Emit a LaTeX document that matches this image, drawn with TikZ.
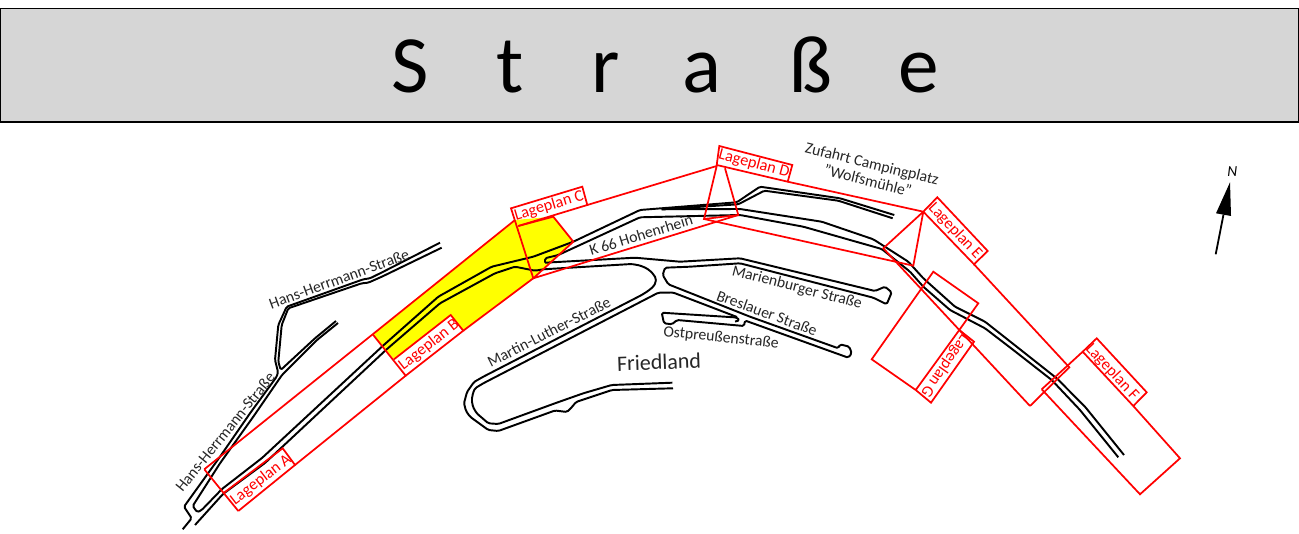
\documentclass[tikz,border=0pt]{standalone}
\usepackage{fontspec}
\setmainfont{Carlito}
\usetikzlibrary{arrows.meta}
\definecolor{bargray}{HTML}{D6D6D6}
\definecolor{planyellow}{RGB}{255,255,0}
\tikzset{
    road/.style={draw=black, line width=1.45pt, line join=round, rounded corners=1.2pt},
    frame/.style={draw=red, line width=1.3pt, line join=miter},
    streetname/.style={font=\fontsize{11.8}{13}\selectfont, text=black!85, inner sep=0pt, align=center},
    planname/.style={font=\fontsize{12.2}{13}\selectfont, text=red, inner sep=0pt},
    titleletter/.style={font=\fontsize{61}{61}\selectfont, anchor=base, inner sep=0pt},
}
\begin{document}
\begin{tikzpicture}[x=0.75pt, y=-0.75pt]
    \useasboundingbox (0,0) rectangle (1299,534);

    % title bar
    \draw[fill=bargray, line width=0.9pt] (0.6,8.8) rectangle (1298.4,122);
    \foreach \ltr/\xpos in {S/410, t/510, r/606, a/702, ß/811, e/919}
        \node[titleletter] (letter\ltr) at (\xpos,93) {\ltr};

    % area in yellow
    \fill[planyellow] (372.7,334.3) -- (515,220) -- (553.3,216.7) -- (573.3,241.7) -- (533.3,278.3)
        -- (463.3,330.7) -- (450.7,315) -- (394,359.3) -- cycle;

    % Hans-Herrmann-Strasse
    \draw[road] (182.7,529.3) -- (191.7,518.3) -- (184,506.7) -- (220,456.7) -- (250,413.3) -- (276.7,376.7)
        -- (278,372) -- (275,360) -- (278.3,325) -- (286.7,306.7) -- (363.3,279.3) -- (370,278.3) -- (383.3,271.7) -- (440,242.7);
    \draw[road] (441.7,247.7) -- (383.3,276) -- (368.3,282.7) -- (361.7,283.3) -- (288.3,308.3) -- (281.7,325)
        -- (278.3,361.7) -- (280.7,370) -- (315,338.3) -- (336,321);
    \draw[road] (338,323) -- (317,340) -- (282,375) -- (253.3,416.7) -- (220,463.3) -- (192.7,506) -- (197.3,512.3)
        -- (201.7,510) -- (222,489) -- (262,458) -- (383,345.7) -- (438.3,296.7) -- (491.7,266.7) -- (533.3,256.7) -- (573.3,241.7)
        -- (640,210) -- (736.7,202.3) -- (760,186.7) -- (840,198.3) -- (894.3,215);
    \draw[road] (195,525) -- (223,494) -- (265,463) -- (386.7,349.3) -- (440,303.3) -- (495,273.3) -- (515,266.7)
        -- (535,270.7) -- (543.3,269.3) -- (631.7,264) -- (640,265.5) -- (646.7,268.3) -- (652,272.5) -- (656,278.3)
        -- (655.5,283) -- (653.3,286.7) -- (648,291) -- (641.7,295)
        -- (483.3,376.7) -- (474,382) -- (467,392) -- (464,403.3) -- (466,411) -- (470,416.7) -- (488.3,430) -- (498.3,431) -- (555,410.5)
        -- (567,412) -- (572,407) -- (576,402) -- (612,390) -- (673,388.3);
    \draw[road] (672.3,382.7) -- (611.7,385) -- (583.3,393.3) -- (555,403.3) -- (498.3,424) -- (488.3,423.3) -- (476.7,413.3)
        -- (473,407) -- (471.7,400) -- (473,393) -- (475,388.3) -- (483.3,383.3) -- (658.3,292.7) -- (673,292.5) -- (737,317);

    % K 66 east of the junction
    \draw[road] (661.7,209.3) -- (738.3,204.3) -- (764.3,190.7) -- (838.3,200.7) -- (892.7,218.3);
    \draw[road] (661.7,209.3) -- (740,209) -- (821.7,221.7) -- (873.3,239.3) -- (908.3,261.7) -- (923.3,278.3) -- (955,306.7)
        -- (985,321.7) -- (1016.7,346.7) -- (1056.7,378.3) -- (1085,406.7) -- (1124,455);
    \draw[road] (545,262.7) -- (545,258.3) -- (558.3,255) -- (640,217.3) -- (740,215) -- (803.3,226.7) -- (881.7,249)
        -- (910,271.7) -- (923.3,286.7) -- (950,310) -- (985,328.3) -- (1013.3,350) -- (1051.7,380) -- (1080,410) -- (1118.3,457.3);

    % Marienburger, Breslauer, Ostpreussen
    \draw[road] (545,262.7) -- (635,257.7) -- (680,261.7) -- (740,258.3) -- (875,291) -- (885,286.7) -- (891.7,292.3)
        -- (886.7,304.3) -- (873.3,297.7) -- (740,263.3) -- (690,266.7) -- (665,267.7) -- (662.7,275) -- (668.3,284.3)
        -- (750,316.7) -- (838.3,348.3) -- (840,344.3) -- (849.3,346.7) -- (851.7,353.3) -- (848.3,357.7) -- (745,320.5)
        -- (744,326) -- (677,320) -- (672,324.3) -- (664,323.3) -- (661.7,312.7) -- (737,317.5) -- (739.5,320.5) -- (735,321.5);

    % plan frames
    \draw[frame] (204.3,469.3) -- (372.7,334.3) -- (515,220);
    \draw[frame] (238.3,511) -- (204.3,469.3);
    \draw[frame] (223.3,493.3) -- (282.7,448.3) -- (295,465) -- (238.3,511);
    \draw[frame] (295,465) -- (405.7,375.7) -- (372.7,334.3);
    \draw[frame] (394,359.3) -- (450.7,315) -- (463.3,330.7) -- (405.7,375.7);
    \draw[frame] (463.3,330.7) -- (533.3,278.3) -- (511,208.3) -- (582.3,186.7) -- (587.3,205) -- (518.3,226);
    \draw[frame] (518.3,226) -- (553.3,216.7) -- (573.3,241.7) -- (533.3,278.3) -- (738.3,215) -- (725,168.3);
    \draw[frame] (587.3,205) -- (716.7,166) -- (704,219) -- (738.3,215);
    \draw[frame] (716.7,165) -- (719.3,146) -- (792.3,165) -- (787.7,181.7) -- cycle;
    \draw[frame] (787.7,181.7) -- (923.3,211.7) -- (913.3,265.7) -- (704,219);
    \draw[frame] (1030,406) -- (883.3,248.3) -- (923.3,211.7) -- (937.3,197.3) -- (987.7,251) -- (974,264.3) -- (923.3,211.7);
    \draw[frame] (974,264.3) -- (1069.3,367.3) -- (1030,406);
    \draw[frame] (1041.7,389.3) -- (1082.7,351.7) -- (1096.7,338.3) -- (1146.7,392.3) -- (1133.3,406) -- (1082.7,351.7);
    \draw[frame] (1133.3,406) -- (1180,458.3) -- (1140,494.3) -- (1041.7,389.3);
    \draw[frame] (959.3,330) -- (978.3,303.3) -- (933.3,271.7) -- (871.7,359.3) -- (915.7,390) -- (959.3,330) -- (974,341.7)
        -- (931,402.7) -- (915.7,390);

    % north arrow
    \draw[line width=1.35pt] (1215.7,254.3) -- (1223.5,214.5);
    \fill (1230,182.3) -- (1216,213.3) -- (1231,216) -- cycle;
    \node[font=\fontsize{11.5}{12}\selectfont\itshape, inner sep=0pt] (north) at (1232.3,171.7) {N};

    % labels
    \node[streetname, rotate=20] (hansupper) at (339,279) {Hans-Herrmann-Straße};
    \node[streetname, rotate=51] (hanslower) at (225,432) {Hans-Herrmann-Straße};
    \node[streetname, rotate=17] (kreis) at (641,235) {K 66 Hohenrhein};
    \node[streetname, rotate=-14] (zufahrt) at (870,172) {Zufahrt Campingplatz\\"Wolfsmühle"};
    \node[streetname, rotate=-14.7] (marien) at (797,288) {Marienburger Straße};
    \node[streetname, rotate=-20] (bres) at (767,313) {Breslauer Straße};
    \node[streetname, rotate=-6] (ost) at (721,338) {Ostpreußenstraße};
    \node[streetname, rotate=27] (martin) at (549,332) {Martin-Luther-Straße};
    \node[streetname, font=\fontsize{16.5}{18}\selectfont, rotate=2] (town) at (659,362) {Friedland};

    \node[planname, rotate=37.5] (planA) at (261,480) {Lageplan A};
    \node[planname, rotate=38] (planB) at (429,345) {Lageplan B};
    \node[planname, rotate=16.5] (planC) at (549,206) {Lageplan C};
    \node[planname, rotate=-15] (planD) at (754,164) {Lageplan D};
    \node[planname, rotate=-47] (planE) at (955,231) {Lageplan E};
    \node[planname, rotate=-47] (planF) at (1112,372) {Lageplan F};
    \node[planname, rotate=-125] (planG) at (945,366) {Lageplan G};
\end{tikzpicture}
\end{document}
